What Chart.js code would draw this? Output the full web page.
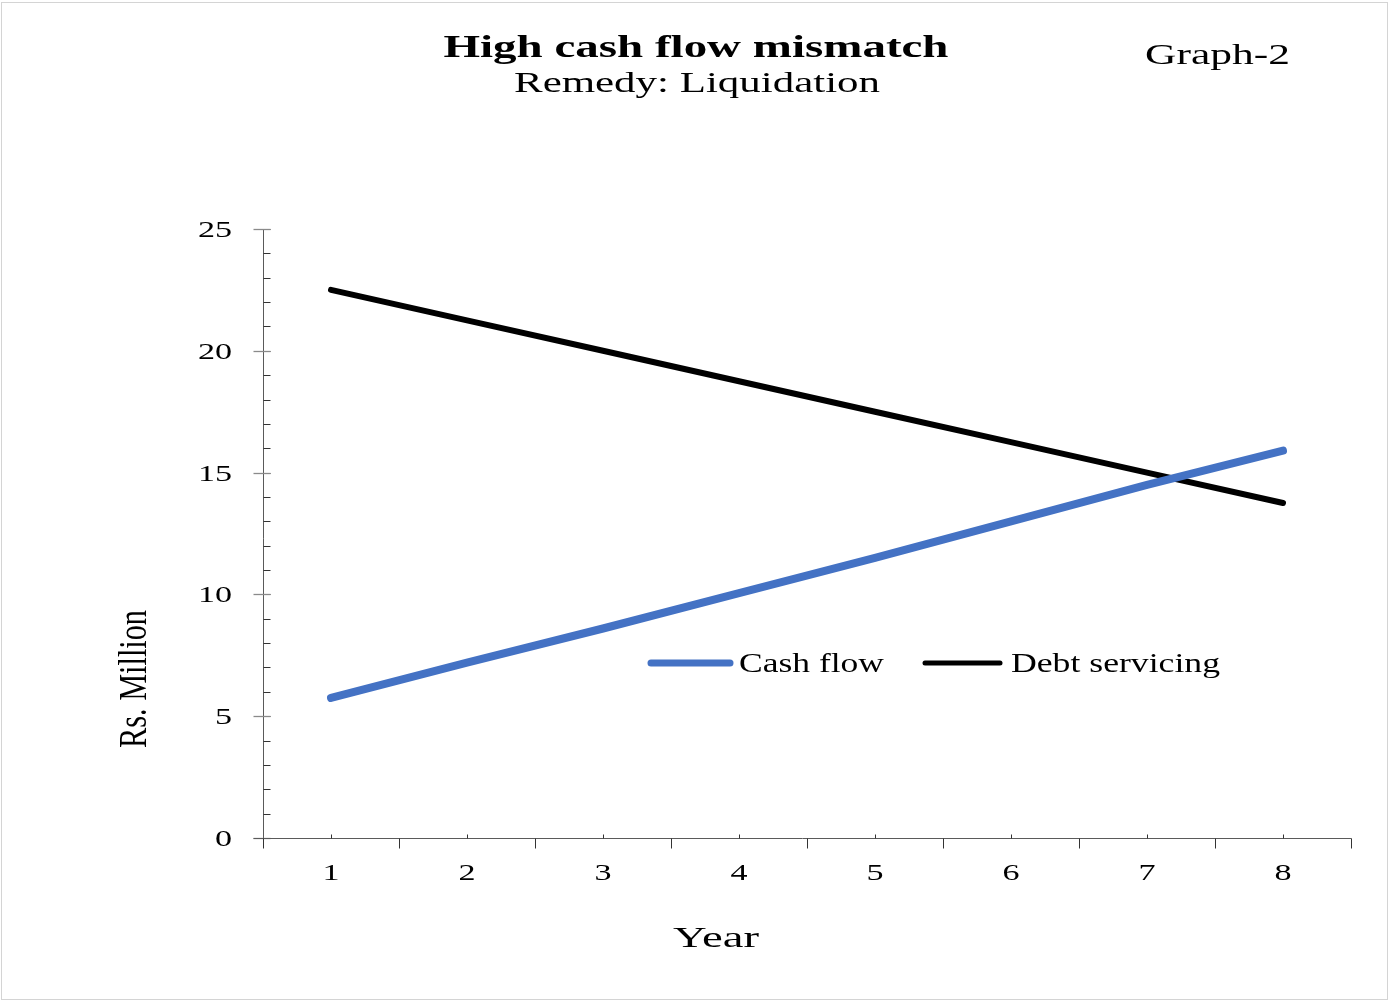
<!DOCTYPE html>
<html>
<head>
<meta charset="utf-8">
<title>High cash flow mismatch</title>
<script src="https://cdn.jsdelivr.net/npm/chart.js@4/dist/chart.umd.min.js"></script>
<style>
  html, body { margin: 0; padding: 0; background: #ffffff; }
  #wrap { width: 1390px; height: 1003px; position: relative; }
  canvas { display: block; }
</style>
</head>
<body>
<div id="wrap"><canvas id="chart" width="1390" height="1003"></canvas></div>
<script>
// Years on the horizontal axis
const years = ['1', '2', '3', '4', '5', '6', '7', '8'];
// Rs. Million per year
const cashFlow = [5.75, 7.2, 8.6, 10.05, 11.5, 13.0, 14.5, 15.9];
const debtServicing = [22.5, 21.25, 20.0, 18.75, 17.5, 16.25, 15.0, 13.75];
// Value axis labels and the unit step of its small ticks
const yTicks = [0, 5, 10, 15, 20, 25];
const yMinorStep = 1;
const seriesNames = ['Cash flow', 'Debt servicing'];

const SERIF = '"Liberation Serif", "Times New Roman", serif';

// Draws text widened (or narrowed) along its own direction.
function wideText(ctx, txt, font, x, y, o) {
  ctx.save();
  ctx.font = font;
  const w = ctx.measureText(txt).width;
  const sx = o.width ? o.width / w : (o.sx || 1);
  ctx.translate(x, y);
  if (o.rotate) ctx.rotate(o.rotate);
  ctx.scale(sx, 1);
  ctx.textAlign = o.align || 'left';
  ctx.textBaseline = 'alphabetic';
  ctx.fillStyle = o.color || '#000';
  ctx.fillText(txt, 0, 0);
  ctx.restore();
}

const framePlugin = {
  id: 'frame',
  beforeDatasetsDraw(chart) {
    const ctx = chart.ctx;
    const xs = chart.scales.x, ys = chart.scales.y;
    const area = chart.chartArea;
    const y0 = Math.round(ys.getPixelForValue(0)) + 0.5;
    const axX = Math.round(area.left) + 0.5;
    ctx.save();
    // outer frame
    ctx.strokeStyle = '#d4d4d4';
    ctx.lineWidth = 1;
    ctx.strokeRect(1.5, 2.5, 1386, 997);

    // value axis line
    ctx.strokeStyle = '#5a5a5a';
    ctx.beginPath();
    ctx.moveTo(axX, Math.round(ys.getPixelForValue(yTicks[yTicks.length - 1])));
    ctx.lineTo(axX, y0 + 9);
    ctx.stroke();
    // small ticks every unit
    ctx.strokeStyle = '#333';
    for (let v = 0; v <= yTicks[yTicks.length - 1]; v += yMinorStep) {
      const py = Math.round(ys.getPixelForValue(v)) + 0.5;
      ctx.beginPath(); ctx.moveTo(axX, py); ctx.lineTo(axX + 7, py); ctx.stroke();
    }
    // labelled ticks
    ctx.strokeStyle = '#8a8a8a';
    ctx.lineWidth = 1.3;
    yTicks.forEach(v => {
      const py = Math.round(ys.getPixelForValue(v)) + 0.5;
      ctx.beginPath(); ctx.moveTo(axX - 10, py); ctx.lineTo(axX + 7, py); ctx.stroke();
    });

    // category axis line
    ctx.lineWidth = 1;
    ctx.strokeStyle = '#5a5a5a';
    ctx.beginPath(); ctx.moveTo(axX - 10, y0); ctx.lineTo(Math.round(area.right) + 0.5, y0); ctx.stroke();
    ctx.strokeStyle = '#333';
    const n = years.length;
    const step = xs.getPixelForValue(1) - xs.getPixelForValue(0);
    for (let i = 0; i <= n; i++) {
      const px = Math.round(xs.getPixelForValue(i) - step / 2) + 0.5;
      ctx.beginPath(); ctx.moveTo(px, y0); ctx.lineTo(px, y0 + 10); ctx.stroke();
    }
    for (let i = 0; i < n; i++) {
      const px = Math.round(xs.getPixelForValue(i)) + 0.5;
      ctx.beginPath(); ctx.moveTo(px, y0); ctx.lineTo(px, y0 - 4); ctx.stroke();
    }
    ctx.restore();
  },
  afterDraw(chart) {
    const ctx = chart.ctx;
    const xs = chart.scales.x, ys = chart.scales.y;
    const tickFont = '24px ' + SERIF;
    // value labels
    yTicks.forEach(v => {
      const py = ys.getPixelForValue(v);
      wideText(ctx, String(v), tickFont, 232, py + 8, { align: 'right', sx: 1.42 });
    });
    // year labels
    years.forEach((lab, i) => {
      wideText(ctx, lab, tickFont, xs.getPixelForValue(i), 880, { align: 'center', sx: 1.42 });
    });
    // titles
    wideText(ctx, 'High cash flow mismatch', 'bold 32px ' + SERIF, 696, 57, { align: 'center', width: 505 });
    wideText(ctx, 'Remedy: Liquidation', '29px ' + SERIF, 697, 92, { align: 'center', width: 366 });
    wideText(ctx, 'Graph-2', '30px ' + SERIF, 1145, 64, { align: 'left', width: 145 });
    // axis titles
    wideText(ctx, 'Year', '30px ' + SERIF, 716, 947, { align: 'center', width: 86 });
    wideText(ctx, 'Rs. Million', '40px ' + SERIF, 146, 679, { align: 'center', width: 138, rotate: -Math.PI / 2 });

    // legend
    const ds = chart.data.datasets;
    const items = [
      { x1: 648, x2: 733, tx: 739, tw: 145 },
      { x1: 922, x2: 1003, tx: 1011, tw: 209 }
    ];
    ctx.save();
    items.forEach((it, i) => {
      ctx.strokeStyle = ds[i].borderColor;
      ctx.lineWidth = ds[i].borderWidth - 1;
      ctx.lineCap = 'round';
      ctx.beginPath(); ctx.moveTo(it.x1 + 3, 663); ctx.lineTo(it.x2 - 3, 663); ctx.stroke();
      wideText(ctx, ds[i].label, '27px ' + SERIF, it.tx, 672, { align: 'left', width: it.tw });
    });
    ctx.restore();
  }
};

new Chart(document.getElementById('chart'), {
  type: 'line',
  data: {
    labels: years,
    datasets: [
      {
        label: seriesNames[0],
        data: cashFlow,
        borderColor: '#4472C4',
        borderWidth: 8,
        borderCapStyle: 'round',
        borderJoinStyle: 'round',
        pointRadius: 0,
        tension: 0,
        fill: false
      },
      {
        label: seriesNames[1],
        data: debtServicing,
        borderColor: '#000000',
        borderWidth: 6,
        borderCapStyle: 'round',
        borderJoinStyle: 'round',
        pointRadius: 0,
        tension: 0,
        fill: false
      }
    ]
  },
  options: {
    responsive: false,
    animation: false,
    clip: false,
    layout: { padding: { left: 263, right: 39, top: 229, bottom: 165 } },
    plugins: {
      legend: { display: false },
      title: { display: false },
      tooltip: { enabled: false }
    },
    scales: {
      x: { type: 'category', offset: true, display: false },
      y: { min: 0, max: 25, display: false }
    }
  },
  plugins: [framePlugin]
});
</script>
</body>
</html>
